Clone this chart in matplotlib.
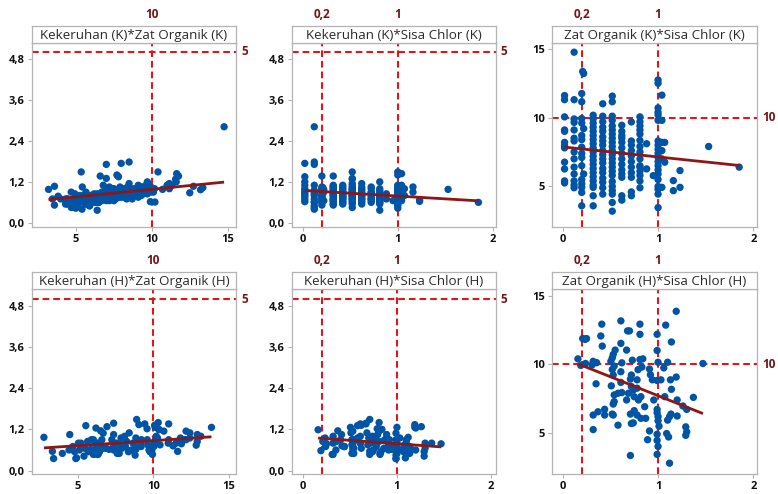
import numpy as np
import matplotlib.pyplot as plt
from matplotlib.ticker import FuncFormatter

# Kualitas air titik K: sisa chlor, zat organik, kekeruhan (satu baris = satu kolom chlor)
sisa_chlor_k = (
    [0.02] * 12
    + [0.12] * 14
    + [0.21, 0.22, 0.2, 0.2, 0.2, 0.2, 0.22, 0.2, 0.2, 0.2, 0.2, 0.2, 0.2, 0.22, 0.2, 0.2, 0.2, 0.2, 0.2]
    + [0.32] * 21
    + [0.42] * 18
    + [0.52] * 23
    + [0.62] * 14
    + [0.72] * 11
    + [0.81] * 15
    + [0.88, 0.88, 0.95]
    + [1.0] * 20
    + [1.04] * 6
    + [1.07, 1.07, 1.16, 1.16, 1.23, 1.23, 1.53, 1.85]
)
zat_organik_k = [
    11.6, 11.3, 10.05, 9.1, 9.0, 8.2, 7.98, 7.8, 6.76, 6.27, 5.4, 5.25,
    14.75, 11.3, 9.9, 9.65, 9.1, 8.5, 8.3, 7.5, 7.0, 6.4, 5.9, 5.4, 5.1, 4.9,
    13.35, 13.2, 11.75, 11.15, 9.93, 9.6, 9.2, 8.7, 8.4, 7.85, 7.4, 7.1, 6.5, 5.9, 5.5, 5.2, 4.93, 4.56, 3.59,
    10.17, 9.9, 9.6, 9.3, 9.0, 8.7, 8.4, 8.1, 7.8, 7.5, 7.2, 6.9, 6.6, 6.3, 6.0, 5.7, 5.4, 5.1, 4.93, 4.32, 3.59,
    11.0, 10.1, 9.7, 9.3, 9.0, 8.6, 8.3, 8.0, 7.6, 7.3, 7.0, 6.7, 6.3, 6.0, 5.6, 5.3, 4.9, 4.44,
    11.56, 11.15, 10.1, 9.8, 9.4, 9.1, 8.8, 8.5, 8.2, 7.9, 7.6, 7.3, 7.0, 6.7, 6.4, 6.1, 5.8, 5.35, 5.0, 4.7, 4.44, 3.83, 3.2,
    9.44, 9.0, 8.7, 8.5, 8.2, 7.8, 7.4, 7.0, 6.6, 6.2, 5.9, 5.66, 4.32, 4.0,
    9.68, 8.3, 8.0, 7.6, 7.2, 6.8, 6.4, 6.0, 5.66, 4.6, 4.32,
    10.05, 9.7, 9.4, 9.1, 8.8, 8.34, 7.9, 7.5, 7.0, 6.5, 6.4, 6.1, 5.8, 5.4, 4.9,
    8.1, 6.27, 5.78,
    12.73, 12.49, 10.7, 10.4, 10.2, 9.8, 8.3, 8.0, 7.7, 7.4, 7.1, 6.8, 6.5, 6.2, 5.9, 5.5, 5.0, 4.8, 4.44, 3.46,
    11.63, 9.8, 8.2, 7.6, 7.0, 4.93,
    8.2, 6.76, 5.42, 4.69, 6.15, 4.93, 7.9, 6.4,
]
kekeruhan_k = [
    1.2, 1.1, 0.95, 1.0, 0.85, 0.9, 1.74, 1.35, 0.68, 0.75, 0.62, 0.8,
    2.81, 1.1, 0.62, 0.9, 0.85, 1.78, 0.95, 0.8, 1.71, 0.7, 0.5, 0.4, 0.6, 0.45,
    1.03, 0.97, 1.37, 1.0, 1.05, 0.95, 0.9, 0.85, 1.0, 0.8, 0.75, 0.95, 0.7, 0.65, 0.8, 0.6, 0.7, 0.62, 0.52,
    1.0, 0.9, 1.1, 0.8, 0.95, 0.7, 1.05, 0.85, 0.75, 1.0, 0.65, 0.9, 1.37, 0.6, 0.8, 0.55, 0.7, 0.52, 0.85, 0.65, 1.07,
    1.1, 0.95, 0.85, 1.05, 0.8, 0.9, 0.75, 1.0, 0.7, 0.85, 0.65, 0.9, 0.6, 0.8, 0.55, 0.75, 0.6, 0.7,
    1.28, 1.15, 0.9, 1.0, 0.85, 1.1, 0.8, 0.95, 0.75, 1.05, 0.7, 0.9, 1.3, 0.65, 0.85, 0.6, 0.8, 1.49, 0.55, 0.45, 0.7, 0.78, 0.98,
    1.05, 0.95, 0.8, 1.15, 0.9, 0.75, 1.0, 0.7, 0.85, 0.65, 0.8, 0.6, 0.55, 0.7,
    1.0, 0.9, 0.75, 0.85, 1.05, 0.7, 0.8, 0.65, 0.9, 0.6, 0.7,
    0.95, 1.2, 0.85, 0.75, 1.0, 0.7, 0.9, 0.65, 0.8, 0.6, 0.37, 0.75, 0.55, 0.7, 0.6,
    0.85, 0.7, 0.65,
    1.07, 0.88, 0.98, 1.49, 0.61, 0.92, 1.0, 0.8, 1.4, 0.9, 0.7, 1.1, 0.6, 0.85, 0.5, 0.75, 0.43, 0.65, 0.55, 0.7,
    1.44, 1.1, 0.85, 0.75, 0.95, 0.65,
    1.0, 0.8, 1.05, 0.9, 0.67, 0.63, 0.98, 0.6,
]

# Kualitas air titik H
sisa_chlor_h = [
    0.16, 0.21, 0.235, 0.25, 0.41, 0.40, 0.415, 0.61, 0.68, 0.70,
    0.81, 0.81, 0.61, 0.67, 0.55, 0.53, 0.52, 0.24, 0.32, 0.356,
    0.505, 0.62, 0.73, 0.81, 0.84, 0.99, 0.99, 1.0, 1.08, 1.14,
    1.19, 1.10, 1.06, 1.47, 0.35, 0.52, 0.54, 0.61, 0.53, 0.51,
    0.61, 0.54, 0.58, 0.62, 0.72, 0.71, 0.78, 0.79, 0.83, 0.91,
    0.92, 0.94, 0.72, 0.74, 0.69, 0.75, 0.795, 0.78, 0.82, 0.955,
    0.99, 1.03, 1.13, 1.19, 1.14, 1.07, 1.2, 1.26, 1.30, 1.37,
    0.53, 0.52, 0.37, 0.32, 0.44, 0.53, 0.71, 0.75, 0.78, 0.82,
    0.86, 0.72, 0.74, 0.87, 0.58, 0.32, 0.91, 0.89, 0.99, 0.99,
    1.0, 1.0, 1.01, 0.99, 0.99, 1.0, 1.12, 1.10, 1.135, 1.20,
    1.09, 1.11, 1.29, 1.30, 1.29, 0.71, 0.99, 1.12, 0.54, 0.67,
    0.44, 0.19, 0.31,
]
zat_organik_h = [
    10.38, 11.86, 11.8, 11.86, 12.91, 12.05, 11.31, 13.15, 12.42, 12.42,
    12.91, 12.17, 11.51, 11.02, 11.02, 10.70, 10.45, 10.04, 10.2, 10.1,
    10.2, 10.09, 10.28, 10.33, 10.38, 12.17, 10.99, 10.13, 12.84, 11.61,
    13.85, 10.13, 9.72, 10.04, 8.56, 9.6, 9.85, 9.44, 9.2, 8.41,
    8.66, 7.75, 7.87, 7.92, 9.2, 8.9, 8.85, 9.59, 9.78, 9.64,
    9.22, 8.85, 8.36, 8.11, 7.87, 7.62, 7.38, 8.24, 7.62, 7.38,
    8.8, 8.85, 8.85, 9.05, 8.16, 7.62, 7.38, 6.94, 6.69, 7.57,
    7.08, 6.35, 6.52, 6.28, 6.28, 6.28, 6.35, 6.6, 6.28, 6.04,
    6.89, 5.66, 5.71, 6.04, 5.54, 5.22, 5.12, 4.48, 6.69, 6.45,
    6.16, 5.86, 5.47, 4.88, 4.43, 3.99, 6.16, 5.91, 6.35, 6.21,
    4.93, 4.68, 5.42, 5.05, 4.8, 3.33, 3.41, 2.77, 7.26, 7.38,
    6.7, 9.9, 9.95,
]
kekeruhan_h = [
    1.19, 0.85, 0.95, 0.78, 1.05, 0.9, 0.72, 1.0, 1.1, 0.95,
    0.85, 1.15, 0.8, 1.36, 0.9, 1.15, 0.75, 0.7, 1.0, 0.85,
    1.26, 1.32, 0.95, 1.4, 1.2, 0.9, 0.8, 1.26, 0.74, 0.56,
    1.26, 0.85, 0.6, 0.78, 0.6, 0.9, 0.65, 1.36, 0.7, 1.1,
    0.8, 0.5, 0.95, 0.65, 0.8, 1.49, 0.7, 1.22, 0.55, 0.75,
    0.9, 0.62, 0.55, 1.0, 0.75, 0.6, 1.05, 0.85, 0.5, 0.7,
    0.45, 0.95, 0.65, 1.34, 0.7, 0.55, 0.6, 1.28, 0.65, 0.8,
    0.62, 0.5, 1.16, 0.47, 0.7, 0.8, 0.47, 0.9, 0.75, 0.47,
    0.65, 0.85, 0.55, 0.9, 1.31, 0.8, 0.6, 1.05, 1.09, 0.55,
    0.8, 0.62, 0.65, 0.35, 0.6, 0.5, 0.6, 0.9, 0.5, 1.24,
    0.37, 0.7, 0.42, 0.8, 0.55, 0.56, 0.35, 0.97, 0.9, 1.38,
    0.7, 0.58, 0.47,
]

# Garis regresi (intercept, slope) tiap panel
fit_kek_zo_k = (0.54, 0.0442)
fit_kek_sc_k = (0.95, -0.165)
fit_zo_sc_k = (7.87, -0.73)
fit_kek_zo_h = (0.58, 0.0292)
fit_kek_sc_h = (0.98, -0.197)
fit_zo_sc_h = (10.46, -2.77)

# Baku mutu
batas_kekeruhan = [5]
batas_zat_organik = [10]
batas_sisa_chlor = [0.2, 1]

kek_ticks = [0.0, 1.2, 2.4, 3.6, 4.8]
zo_ticks = [5, 10, 15]
sc_ticks = [0, 1, 2]

BLUE = "#0054a6"
FIT = "#8e1616"
REF = "#e0161b"
REF_TEXT = "#7a1414"
FRAME = "#b4b4b4"

plt.rcParams["font.family"] = ["Open Sans", "DejaVu Sans"]

fig = plt.figure(figsize=(7.78, 4.94), dpi=100)

cols = [(0.0407, 0.2626), (0.3747, 0.2622), (0.7091, 0.2643)]
# (bottom, height) of the data area, then (bottom, height) of the title strip
rows = [(0.5405, 0.3725, 0.9130, 0.0344), (0.0405, 0.3735, 0.4140, 0.0360)]

decimal = FuncFormatter(lambda v, p: f"{v:.1f}".replace(".", ","))
plain = FuncFormatter(lambda v, p: f"{v:g}".replace(".", ","))

panels = [
    (0, 0, zat_organik_k, kekeruhan_k, fit_kek_zo_k, "Kekeruhan (K)*Zat Organik (K)",
     (2.09, 15.53), (-0.12, 5.26), zo_ticks, kek_ticks, batas_zat_organik, batas_kekeruhan),
    (0, 1, sisa_chlor_k, kekeruhan_k, fit_kek_sc_k, "Kekeruhan (K)*Sisa Chlor (K)",
     (-0.12, 2.03), (-0.12, 5.26), sc_ticks, kek_ticks, batas_sisa_chlor, batas_kekeruhan),
    (0, 2, sisa_chlor_k, zat_organik_k, fit_zo_sc_k, "Zat Organik (K)*Sisa Chlor (K)",
     (-0.115, 2.04), (2.05, 15.42), sc_ticks, zo_ticks, batas_sisa_chlor, batas_zat_organik),
    (1, 0, zat_organik_h, kekeruhan_h, fit_kek_zo_h, "Kekeruhan (H)*Zat Organik (H)",
     (1.96, 15.47), (-0.10, 5.28), zo_ticks, kek_ticks, batas_zat_organik, batas_kekeruhan),
    (1, 1, sisa_chlor_h, kekeruhan_h, fit_kek_sc_h, "Kekeruhan (H)*Sisa Chlor (H)",
     (-0.123, 2.05), (-0.10, 5.28), sc_ticks, kek_ticks, batas_sisa_chlor, batas_kekeruhan),
    (1, 2, sisa_chlor_h, zat_organik_h, fit_zo_sc_h, "Zat Organik (H)*Sisa Chlor (H)",
     (-0.115, 2.04), (1.98, 15.44), sc_ticks, zo_ticks, batas_sisa_chlor, batas_zat_organik),
]

for r, c, x, y, fit, title, xlim, ylim, xt, yt, vref, href in panels:
    x = np.asarray(x, dtype=float)
    y = np.asarray(y, dtype=float)
    left, width = cols[c]
    bottom, height, sbottom, sheight = rows[r]

    ax = fig.add_axes([left, bottom, width, height])
    strip = fig.add_axes([left, sbottom, width, sheight])

    # Title strip above the data area
    strip.set_xticks([])
    strip.set_yticks([])
    for s in strip.spines.values():
        s.set_color(FRAME)
        s.set_linewidth(0.9)
    strip.text(0.5, 0.45, title, ha="center", va="center",
               fontsize=9.6, color="#2b2b2b", transform=strip.transAxes)

    ax.scatter(x, y, s=28, color=BLUE, edgecolor="none", zorder=3)

    # Regression line across the observed range
    b0, b1 = fit
    xs = np.array([x.min(), x.max()])
    ax.plot(xs, b0 + b1 * xs, color=FIT, lw=2.0, zorder=4, solid_capstyle="butt")

    for v in vref:
        ax.axvline(v, color=REF, lw=1.5, ls=(0, (3.2, 1.9)), zorder=2)
        ax.annotate(f"{v:g}".replace(".", ","), xy=(v, 1), xycoords=("data", "axes fraction"),
                    xytext=(0, 22), textcoords="offset pixels", ha="center", va="bottom",
                    fontsize=8.5, fontweight="bold", color=REF_TEXT, annotation_clip=False)
    for h in href:
        ax.axhline(h, color=REF, lw=1.5, ls=(0, (3.2, 1.9)), zorder=2)
        ax.annotate(f"{h:g}", xy=(1, h), xycoords=("axes fraction", "data"),
                    xytext=(5, 0), textcoords="offset pixels", ha="left", va="center",
                    fontsize=8.5, fontweight="bold", color=REF_TEXT, annotation_clip=False)

    ax.set_xlim(*xlim)
    ax.set_ylim(*ylim)
    ax.set_xticks(xt)
    ax.set_yticks(yt)
    ax.xaxis.set_major_formatter(plain)
    ax.yaxis.set_major_formatter(decimal if yt is kek_ticks else plain)
    ax.tick_params(length=3, width=0.8, color=FRAME, labelsize=8, pad=2)
    for lab in ax.get_xticklabels() + ax.get_yticklabels():
        lab.set_fontweight("bold")
        lab.set_color("#111111")
    for s in ax.spines.values():
        s.set_color(FRAME)
        s.set_linewidth(0.9)

fig.savefig("out.png", dpi=100)
